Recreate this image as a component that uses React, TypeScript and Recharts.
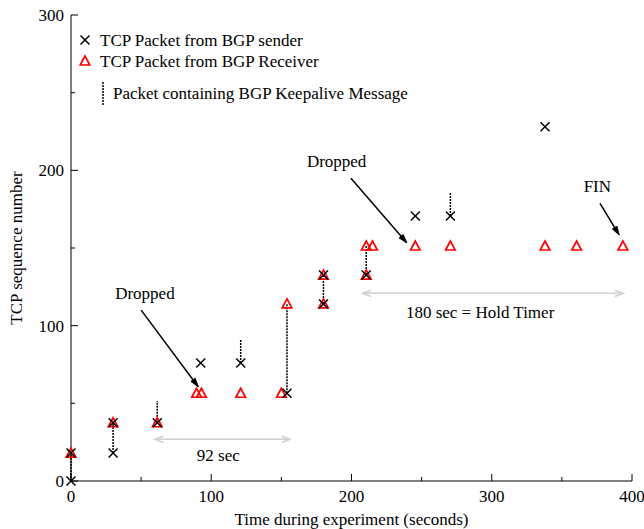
import React from 'react';
import { ScatterChart, Scatter, XAxis, YAxis, ReferenceLine, ReferenceDot } from 'recharts';

const senderX = [0, 0, 30, 30, 61.5, 92.5, 121, 154, 180, 180, 210.5, 245.5, 270.5, 338];
const senderY = [0, 18, 18, 37.5, 37.5, 76, 76, 56.5, 114, 132.6, 132.6, 170.6, 170.6, 228];

const receiverX = [0, 30, 61.5, 89.5, 93, 121, 150, 154, 180, 180, 210.5, 210.5, 215, 245.5, 270.5, 338, 360.5, 393.5];
const receiverY = [18, 37.5, 37.5, 56.5, 56.5, 56.5, 56.5, 114, 114, 132.6, 132.6, 151.3, 151.3, 151.3, 151.3, 151.3, 151.3, 151.3];

const keepaliveX = [0, 30, 61.5, 121, 154, 180, 210.5, 270.5];
const keepaliveFrom = [0, 18, 37.5, 76, 56.5, 114, 132.6, 170.6];
const keepaliveTo = [18, 37.5, 51.5, 91, 114, 132.6, 151.3, 185.6];

const blackArrows = [
  { x1: 50, y1: 110, x2: 90.7, y2: 60.7 },
  { x1: 199.6, y1: 194.9, x2: 239.4, y2: 153.4 },
  { x1: 377.2, y1: 178.8, x2: 390.8, y2: 158.4 },
];
const grayArrows = [
  { x1: 59.9, y1: 26.8, x2: 156.1, y2: 26.8 },
  { x1: 208, y1: 120.8, x2: 393.8, y2: 120.8 },
];
const notes = [
  { x: 52.7, y: 120.1, text: 'Dropped' },
  { x: 189.4, y: 205.2, text: 'Dropped' },
  { x: 375.3, y: 189.1, text: 'FIN' },
  { x: 105, y: 16.1, text: '92 sec' },
  { x: 291.7, y: 108, text: '180 sec = Hold Timer' },
];

const xTicks = [0, 50, 100, 150, 200, 250, 300, 350, 400];
const yTicks = [0, 50, 100, 150, 200, 250, 300];

const FONT = '"Liberation Serif", "Times New Roman", serif';
const FS = 17;

const sender = senderX.map((x, i) => ({ x, y: senderY[i] }));
const receiver = receiverX.map((x, i) => ({ x, y: receiverY[i] }));

const XShape = (p: any) => {
  const { cx, cy } = p;
  const s = 4.5;
  return (
    <g>
      <line x1={cx - s} y1={cy - s} x2={cx + s} y2={cy + s} stroke="#000" strokeWidth={1.5} />
      <line x1={cx - s} y1={cy + s} x2={cx + s} y2={cy - s} stroke="#000" strokeWidth={1.5} />
    </g>
  );
};

const TriShape = (p: any) => {
  const { cx, cy } = p;
  const w = 4.8;
  return (
    <polygon
      points={`${cx},${cy - 5} ${cx - w},${cy + 4} ${cx + w},${cy + 4}`}
      fill="none"
      stroke="#ff0000"
      strokeWidth={1.7}
    />
  );
};

const XTick = (p: any) => {
  const { x, y, payload } = p;
  const major = payload.value % 100 === 0;
  return (
    <g>
      <line x1={x} x2={x} y1={y} y2={y - (major ? 7 : 4)} stroke="#000" />
      {major && (
        <text x={x} y={y + 21} textAnchor="middle" fontFamily={FONT} fontSize={FS} fill="#000">
          {payload.value}
        </text>
      )}
    </g>
  );
};

const YTick = (p: any) => {
  const { x, y, payload } = p;
  const major = payload.value % 100 === 0;
  return (
    <g>
      <line x1={x} x2={x + (major ? 7 : 4)} y1={y} y2={y} stroke="#000" />
      {major && (
        <text x={x - 7} y={y + 6} textAnchor="end" fontFamily={FONT} fontSize={FS} fill="#000">
          {payload.value}
        </text>
      )}
    </g>
  );
};

const arrowShape = (color: string, both: boolean, filled: boolean) => (p: any) => {
  const { x1, y1, x2, y2 } = p;
  const head = (ax: number, ay: number, bx: number, by: number) => {
    const ang = Math.atan2(by - ay, bx - ax);
    const L = 9;
    const spread = filled ? 0.3 : 0.35;
    const p1x = bx - L * Math.cos(ang - spread);
    const p1y = by - L * Math.sin(ang - spread);
    const p2x = bx - L * Math.cos(ang + spread);
    const p2y = by - L * Math.sin(ang + spread);
    if (filled) {
      return <polygon points={`${bx},${by} ${p1x},${p1y} ${p2x},${p2y}`} fill={color} stroke={color} />;
    }
    return <polyline points={`${p1x},${p1y} ${bx},${by} ${p2x},${p2y}`} fill="none" stroke={color} strokeWidth={1.5} />;
  };
  return (
    <g>
      <line x1={x1} y1={y1} x2={x2} y2={y2} stroke={color} strokeWidth={1.5} />
      {head(x1, y1, x2, y2)}
      {both && head(x2, y2, x1, y1)}
    </g>
  );
};

const textShape = (text: string) => (p: any) => (
  <text x={p.cx} y={p.cy + 5} textAnchor="middle" fontFamily={FONT} fontSize={FS} fill="#000">
    {text}
  </text>
);

const LegendOverlay = () => (
  <svg width={340} height={90} style={{ position: 'absolute', left: 78, top: 28, overflow: 'visible' }}>
    <g fontFamily={FONT} fontSize={FS} fill="#000">
      <XShape cx={7} cy={12} />
      <text x={22} y={18}>TCP Packet from BGP sender</text>
      <TriShape cx={7} cy={33} />
      <text x={22} y={39}>TCP Packet from BGP Receiver</text>
      <line x1={25} y1={54} x2={25} y2={78} stroke="#000" strokeWidth={1.5} strokeDasharray="2 1" />
      <text x={35} y={71}>Packet containing BGP Keepalive Message</text>
    </g>
  </svg>
);

export default function App() {
  return (
    <div style={{ position: 'absolute', left: 0, top: 0, width: 644, height: 529, background: '#fff' }}>
      <ScatterChart width={644} height={529} margin={{ top: 15, right: 12, bottom: 0, left: 0 }}>
        <XAxis
          type="number"
          dataKey="x"
          domain={[0, 400]}
          ticks={xTicks}
          interval={0}
          tickLine={false}
          tickSize={0}
          tickMargin={0}
          tick={<XTick />}
          height={48}
          axisLine={{ stroke: '#000' }}
          label={{ value: 'Time during experiment (seconds)', position: 'insideBottom', offset: 4, fontFamily: FONT, fontSize: FS, fill: '#000' }}
        />
        <YAxis
          type="number"
          dataKey="y"
          domain={[0, 300]}
          ticks={yTicks}
          interval={0}
          tickLine={false}
          tickSize={0}
          tickMargin={0}
          tick={<YTick />}
          width={71}
          axisLine={{ stroke: '#000' }}
          label={{ value: 'TCP sequence number', angle: -90, position: 'insideLeft', offset: 16, style: { textAnchor: 'middle' }, fontFamily: FONT, fontSize: FS, fill: '#000' }}
        />
        {keepaliveX.map((x, i) => (
          <ReferenceLine
            key={'ka' + i}
            segment={[{ x, y: keepaliveFrom[i] }, { x, y: keepaliveTo[i] }]}
            stroke="#000"
            strokeWidth={1.5}
            strokeDasharray="2 1"
            ifOverflow="visible"
          />
        ))}
        {grayArrows.map((a, i) => (
          <ReferenceLine
            key={'ga' + i}
            segment={[{ x: a.x1, y: a.y1 }, { x: a.x2, y: a.y2 }]}
            ifOverflow="visible"
            shape={arrowShape('#d0d0d0', true, false)}
          />
        ))}
        {blackArrows.map((a, i) => (
          <ReferenceLine
            key={'ba' + i}
            segment={[{ x: a.x1, y: a.y1 }, { x: a.x2, y: a.y2 }]}
            ifOverflow="visible"
            shape={arrowShape('#000', false, true)}
          />
        ))}
        {notes.map((n, i) => (
          <ReferenceDot key={'n' + i} x={n.x} y={n.y} r={0} ifOverflow="visible" shape={textShape(n.text)} />
        ))}
        <Scatter data={receiver} shape={<TriShape />} isAnimationActive={false} />
        <Scatter data={sender} shape={<XShape />} isAnimationActive={false} />
      </ScatterChart>
      <LegendOverlay />
    </div>
  );
}
